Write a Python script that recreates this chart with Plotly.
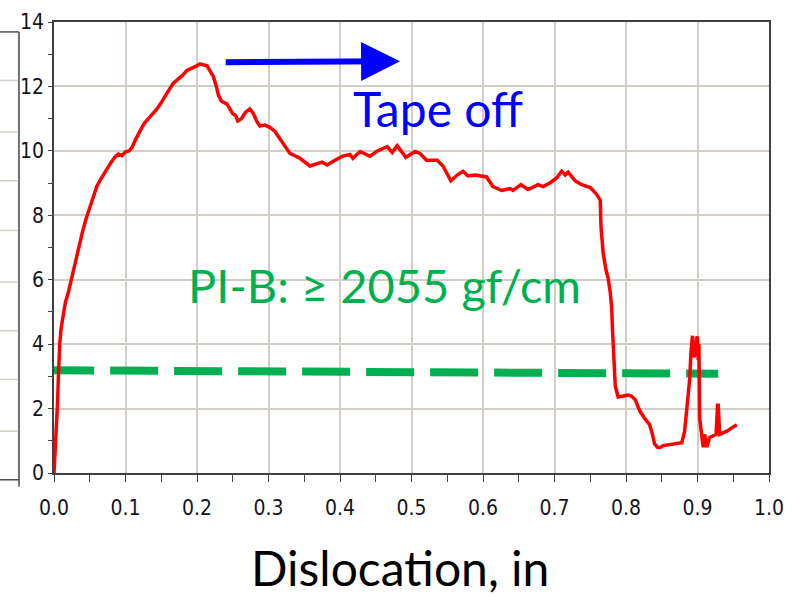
import plotly.graph_objects as go

# Peel force trace (force vs. dislocation)
dislocation_in = [
    0.000, 0.002, 0.003, 0.004, 0.005, 0.006, 0.007, 0.008, 0.010, 0.013,
    0.016, 0.020, 0.024, 0.028, 0.032, 0.036, 0.040, 0.045, 0.050, 0.055,
    0.060, 0.064, 0.070, 0.075, 0.080, 0.085, 0.090, 0.095, 0.100, 0.105,
    0.109, 0.114, 0.120, 0.126, 0.132, 0.138, 0.144, 0.150, 0.155, 0.161,
    0.167, 0.173, 0.180, 0.186, 0.192, 0.198, 0.204, 0.209, 0.214, 0.219,
    0.223, 0.227, 0.230, 0.234, 0.237, 0.242, 0.246, 0.250, 0.254, 0.257,
    0.262, 0.268, 0.274, 0.279, 0.284, 0.288, 0.295, 0.302, 0.309, 0.316,
    0.322, 0.330, 0.344, 0.358, 0.375, 0.382, 0.393, 0.403, 0.414, 0.418,
    0.428, 0.442, 0.451, 0.466, 0.473, 0.480, 0.492, 0.505, 0.512, 0.521,
    0.536, 0.544, 0.555, 0.564, 0.572, 0.579, 0.589, 0.605, 0.614, 0.626,
    0.638, 0.642, 0.653, 0.663, 0.677, 0.684, 0.694, 0.703, 0.710, 0.715,
    0.719, 0.729, 0.738, 0.750, 0.759, 0.764, 0.765, 0.768, 0.772, 0.775,
    0.778, 0.780, 0.781, 0.782, 0.783, 0.785, 0.789, 0.795, 0.803, 0.808,
    0.813, 0.817, 0.820, 0.826, 0.833, 0.837, 0.840, 0.844, 0.848, 0.852,
    0.857, 0.862, 0.870, 0.878, 0.882, 0.885, 0.887, 0.889, 0.891, 0.893,
    0.895, 0.897, 0.899, 0.900, 0.901, 0.902, 0.903, 0.906, 0.908, 0.910,
    0.913, 0.917, 0.922, 0.926, 0.928, 0.929, 0.931, 0.936, 0.941, 0.948,
    0.955,
]
force = [
    0.00, 0.80, 1.50, 1.90, 2.20, 2.90, 3.50, 4.00, 4.50, 5.00,
    5.30, 5.60, 6.00, 6.40, 6.80, 7.10, 7.50, 7.90, 8.25, 8.60,
    8.90, 9.07, 9.30, 9.50, 9.65, 9.80, 9.90, 9.85, 9.97, 10.00,
    10.10, 10.35, 10.60, 10.85, 11.00, 11.15, 11.30, 11.50, 11.70, 11.90,
    12.10, 12.20, 12.35, 12.50, 12.55, 12.62, 12.70, 12.68, 12.64, 12.45,
    12.30, 12.00, 11.73, 11.55, 11.50, 11.45, 11.30, 11.15, 11.10, 10.93,
    11.00, 11.20, 11.30, 11.15, 10.90, 10.77, 10.80, 10.73, 10.60, 10.37,
    10.20, 9.92, 9.77, 9.53, 9.65, 9.56, 9.71, 9.83, 9.89, 9.77,
    9.98, 9.83, 9.98, 10.13, 9.95, 10.16, 9.80, 9.98, 9.92, 9.71,
    9.71, 9.53, 9.07, 9.25, 9.37, 9.22, 9.25, 9.19, 8.89, 8.77,
    8.83, 8.77, 8.95, 8.80, 8.95, 8.89, 9.01, 9.16, 9.37, 9.25,
    9.34, 9.07, 8.95, 8.86, 8.65, 8.47, 7.65, 6.84, 6.30, 6.05,
    5.60, 5.13, 4.50, 4.10, 3.30, 2.70, 2.36, 2.38, 2.42, 2.38,
    2.27, 2.05, 1.90, 1.70, 1.50, 1.20, 0.90, 0.80, 0.79, 0.85,
    0.87, 0.90, 0.92, 0.94, 1.30, 1.90, 2.40, 2.90, 3.80, 4.26,
    3.60, 3.70, 4.20, 4.23, 3.50, 4.00, 1.70, 1.20, 0.80, 1.20,
    0.80, 1.10, 1.15, 1.20, 2.10, 2.10, 1.20, 1.25, 1.30, 1.40,
    1.50,
]

# Specification threshold line
threshold_x = [-0.011, 0.929]
threshold_y = [3.19, 3.08]

# Peel direction arrow (tail -> head)
arrow_x = [0.238, 0.484]
arrow_y = [12.75, 12.78]

x_ticks = [0.0, 0.1, 0.2, 0.3, 0.4, 0.5, 0.6, 0.7, 0.8, 0.9, 1.0]
x_tick_labels = ["0.0", "0.1", "0.2", "0.3", "0.4", "0.5", "0.6", "0.7", "0.8", "0.9", "1.0"]
y_ticks = [0, 2, 4, 6, 8, 10, 12, 14]
y_tick_labels = ["0", "2", "4", "6", "8", "10", "12", "14"]

GRID = "#d2cec6"
AXIS = "#404040"
TICKFONT = dict(family="DejaVu Sans Condensed, DejaVu Sans", size=21, color="#151520")

fig = go.Figure()

fig.add_trace(go.Scatter(
    x=threshold_x, y=threshold_y, mode="lines",
    line=dict(color="#00B050", width=8, dash="48px,16px"),
    hoverinfo="skip", showlegend=False,
))

fig.add_trace(go.Scatter(
    x=dislocation_in, y=force, mode="lines",
    line=dict(color="#FF0000", width=3.5),
    showlegend=False,
))

fig.add_annotation(
    x=arrow_x[1], y=arrow_y[1], ax=arrow_x[0], ay=arrow_y[0],
    xref="x", yref="y", axref="x", ayref="y",
    text="", showarrow=True, arrowhead=2, arrowsize=1.3,
    arrowwidth=6, arrowcolor="#0000FF", standoff=0,
)

fig.add_annotation(
    x=0.537, y=11.3, xref="x", yref="y", text="Tape off", showarrow=False,
    font=dict(family="Lato", size=48, color="#0000FF"),
    xanchor="center", yanchor="middle",
)

fig.add_annotation(
    x=0.462, y=5.85, xref="x", yref="y", text="PI-B: \u2265 2055 gf/cm", showarrow=False,
    font=dict(family="Lato", size=47, color="#00B050"),
    xanchor="center", yanchor="middle",
)

fig.add_annotation(
    x=0.484, y=-0.21, xref="paper", yref="paper", text="Dislocation, in", showarrow=False,
    font=dict(family="Lato", size=48, color="#000000"),
    xanchor="center", yanchor="middle",
)

# Edge of the neighbouring panel on the left
left_panel = [
    dict(type="line", x0=-0.049, x1=-0.049, y0=0.978, y1=-0.030, line=dict(color="#707070", width=2)),
    dict(type="line", x0=-0.080, x1=-0.049, y0=0.978, y1=0.978, line=dict(color="#505050", width=1.5)),
    dict(type="line", x0=-0.080, x1=-0.049, y0=-0.015, y1=-0.015, line=dict(color="#505050", width=1.5)),
]
for py in [70, 123, 173, 224, 277, 327, 377, 430]:
    yp = (473 - py) / 463
    left_panel.append(dict(type="line", x0=-0.080, x1=-0.051, y0=yp, y1=yp,
                           line=dict(color=GRID, width=1.5)))
for s in left_panel:
    fig.add_shape(xref="paper", yref="paper", layer="below", **s)

fig.update_xaxes(
    range=[0, 1], tickvals=x_ticks, ticktext=x_tick_labels,
    showgrid=True, gridcolor=GRID, gridwidth=1.5,
    showline=True, linecolor=AXIS, linewidth=1.5, mirror=True,
    ticks="outside", ticklen=7, tickcolor=AXIS, tickwidth=1,
    minor=dict(dtick=0.05, ticks="outside", ticklen=7, tickcolor=AXIS, showgrid=False),
    tickfont=TICKFONT, ticklabelstandoff=8, zeroline=False,
)
fig.update_yaxes(
    range=[0, 14], tickvals=y_ticks, ticktext=y_tick_labels,
    showgrid=True, gridcolor=GRID, gridwidth=1.5,
    showline=True, linecolor=AXIS, linewidth=1.5, mirror=True,
    ticks="outside", ticklen=4, tickcolor=AXIS, tickwidth=1,
    minor=dict(dtick=1, ticks="outside", ticklen=4, tickcolor=AXIS, showgrid=False),
    tickfont=TICKFONT, zeroline=False,
)

fig.update_layout(
    width=808, height=597,
    margin=dict(l=54, r=39, t=10, b=124),
    paper_bgcolor="white", plot_bgcolor="white",
    showlegend=False,
)

fig.write_html("out.html")
